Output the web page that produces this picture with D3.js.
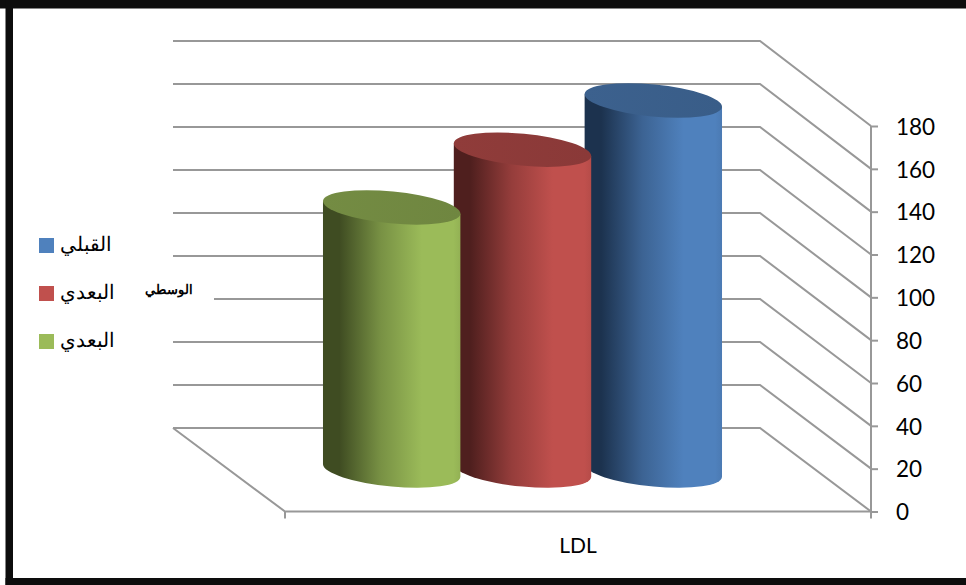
<!DOCTYPE html>
<html><head><meta charset="utf-8">
<script src="https://cdn.jsdelivr.net/npm/d3@7/dist/d3.min.js"></script>
<style>html,body{margin:0;padding:0;background:#fff;overflow:hidden}svg{display:block}</style>
</head><body><div id="c"></div>
<script>
const categories = ["LDL"];
const seriesNames = ["القبلي", "البعدي", "البعدي"];
const seriesValues = [173, 150, 123];
const seriesColors = ["#4F81BD", "#C0504D", "#9BBB59"];
const seriesDark = ["#1c324e", "#4f1f1e", "#3f4c22"];
const seriesTop = ["#3c618e", "#903c3a", "#748c43"];
const tickValues = [0, 20, 40, 60, 80, 100, 120, 140, 160, 180];
const midLabel = "الوسطي";

const W = 966, H = 585;
const svg = d3.select("#c").append("svg").attr("width", W).attr("height", H);
const defs = svg.append("defs");

// frame
const frame = "#0d0d0d";
svg.append("rect").attr("x",0).attr("y",0).attr("width",W).attr("height",8.5).attr("fill",frame);
svg.append("rect").attr("x",5.5).attr("y",0).attr("width",7.5).attr("height",H).attr("fill",frame);
svg.append("rect").attr("x",5.5).attr("y",578).attr("width",W).attr("height",7).attr("fill",frame);

const yFront = d3.scaleLinear().domain([0,180]).range([511.5,126]);
const yBack  = d3.scaleLinear().domain([0,180]).range([428,41]);
const xFloor = d3.scaleLinear().domain([0,1]).range([285,871]);
const xWall  = d3.scaleLinear().domain([0,1]).range([173,760]);
const grid = "#989898";

// walls
const walls = svg.append("g").attr("fill","none").attr("stroke",grid).attr("stroke-width",2);
tickValues.forEach(v=>{
  walls.append("path").attr("d", d3.line()([[xWall(0),yBack(v)],[xWall(1),yBack(v)],[xFloor(1),yFront(v)]]));
});
walls.append("path").attr("d", d3.line()([[xWall(0),yBack(0)],[xFloor(0),yFront(0)],[xFloor(1),yFront(0)]]));
walls.append("path").attr("d", d3.line()([[xFloor(0),yFront(0)],[xFloor(0),yFront(0)+7]]));

// right axis
const axis = d3.axisRight(yFront).tickValues(tickValues).tickSize(7).tickPadding(18);
const ax = svg.append("g").attr("transform",`translate(${xFloor(1)},0)`).call(axis);
ax.selectAll("line,path").attr("stroke",grid).attr("stroke-width",2);
ax.select(".domain").attr("d",`M0,${yFront(180)}V${yFront(0)+7}`);
ax.selectAll("text").attr("font-family","Lato").attr("font-size",22.5).attr("fill","#000").attr("dy","0.37em");

// cylinders
const bx = d3.scaleBand().domain(seriesValues.map((d,i)=>i)).range([722,323]).paddingInner(-0.05);
const h = d3.scaleLinear().domain([0,180]).range([0,385]);
const baseY = 470.5, a = 69, b = 16, rot = 5.5;
const th = rot*Math.PI/180;
const hw = Math.sqrt(a*a*Math.cos(th)**2+b*b*Math.sin(th)**2);
const dy = (a*a-b*b)*Math.sin(th)*Math.cos(th)/hw;

seriesValues.forEach((v,i)=>{
  const cx = bx(i)+bx.bandwidth()/2, top = baseY-h(v);
  const gid = "g"+i, tid = "t"+i;
  const g = defs.append("linearGradient").attr("id",gid);
  [[0,seriesDark[i]],[0.12,seriesDark[i]],[0.42,d3.interpolateRgb(seriesDark[i],seriesColors[i])(0.62)],[0.72,seriesColors[i]],[0.95,seriesColors[i]],[1,d3.color(seriesColors[i]).darker(0.15)]]
    .forEach(s=>g.append("stop").attr("offset",s[0]).attr("stop-color",s[1]));
  const t = defs.append("linearGradient").attr("id",tid);
  [[0,seriesTop[i]],[1,d3.color(seriesTop[i]).darker(0.12)]]
    .forEach(s=>t.append("stop").attr("offset",s[0]).attr("stop-color",s[1]));
  const L = cx-hw, R = cx+hw;
  svg.append("path")
    .attr("d",`M${L},${top-dy}L${L},${baseY-dy}A${a},${b} ${rot} 0 0 ${R},${baseY+dy}L${R},${top+dy}Z`)
    .attr("fill",`url(#${gid})`);
  svg.append("ellipse").attr("cx",cx).attr("cy",top).attr("rx",a).attr("ry",b)
    .attr("transform",`rotate(${rot} ${cx} ${top})`).attr("fill",`url(#${tid})`);
});

// category label
svg.append("text").attr("x",578).attr("y",552.5).attr("text-anchor","middle")
  .attr("font-family","Lato").attr("font-size",21).attr("fill","#000").text(categories[0]);

// mid label, covering the wall line
svg.append("rect").attr("x",135).attr("y",290).attr("width",79).attr("height",16).attr("fill","#fff");
svg.append("text").attr("x",145).attr("y",294).attr("text-anchor","end").attr("direction","rtl")
  .attr("font-family","Liberation Sans").attr("font-weight","bold").attr("font-size",12.5).attr("fill","#000").text(midLabel);

// legend
const legY = d3.scalePoint().domain([0,1,2]).range([245.5,341.5]);
seriesNames.forEach((n,i)=>{
  svg.append("rect").attr("x",39).attr("y",legY(i)-7.5).attr("width",15).attr("height",15).attr("fill",seriesColors[i]);
  svg.append("text").attr("x",60).attr("y",legY(i)+5).attr("direction","rtl").attr("text-anchor","end")
    .attr("font-family","Liberation Sans").attr("font-size",20).attr("fill","#000").text(n);
});
</script></body></html>
